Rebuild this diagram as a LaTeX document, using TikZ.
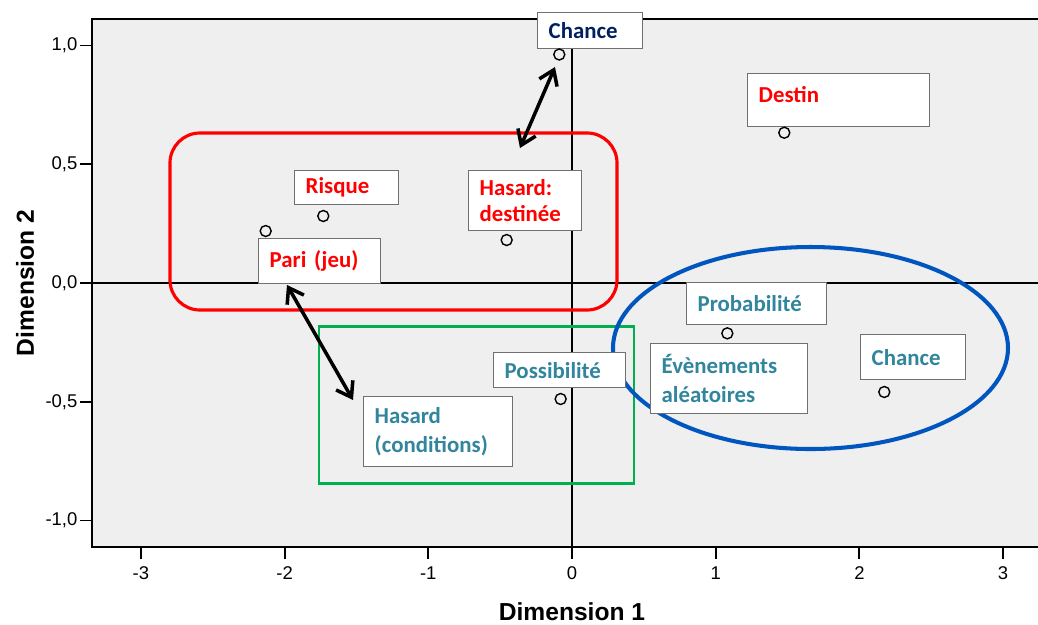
\documentclass[tikz,border=0pt]{standalone}
\usepackage{fontspec}
\setmainfont{Liberation Sans}
\newfontfamily\calib{Carlito}
\usetikzlibrary{arrows.meta}

\definecolor{plotgray}{HTML}{EFEFEF}
\definecolor{boxgray}{HTML}{707070}
\definecolor{chancenavy}{HTML}{002060}
\definecolor{tealtxt}{HTML}{31859C}
\definecolor{grpgreen}{HTML}{00B050}
\definecolor{grpblue}{HTML}{0055BF}

\begin{document}
\begin{tikzpicture}[x=2.874cm,y=4.75cm,
  lbl/.style={draw=boxgray,line width=0.8pt,fill=white,anchor=north west,
    inner xsep=0.22cm,inner ysep=0pt,align=left,
    font=\calib\bfseries\fontsize{13}{16.5}\selectfont},
  pt/.style={circle,draw,line width=0.8pt,minimum size=0.22cm,inner sep=0pt},
  dbl/.style={{Straight Barb[length=8pt,width=11pt]}-{Straight Barb[length=8pt,width=11pt]},line width=2pt},
  ticklbl/.style={font=\fontsize{10.5}{12}\selectfont,inner sep=1pt}]

\useasboundingbox (-3.9805,1.1916) rectangle (3.2429,-1.4358);

% plot area and axes
\fill[plotgray] (-3.340,1.1116) rectangle (3.2429,-1.1116);
\draw[line width=1.1pt] (-3.340,0) -- (3.2429,0);
\draw[line width=1.1pt] (0,1.1116) -- (0,-1.1116);
\draw[line width=1.1pt] (3.2429,1.1116) -- (-3.340,1.1116) -- (-3.340,-1.1116) -- (3.2429,-1.1116);

\foreach \y/\t in {1/{1,0},0.5/{0,5},0/{0,0},-0.5/{-0,5},-1/{-1,0}}
  \draw[line width=1.1pt] (-3.340,\y) -- (-3.4235,\y) node[ticklbl,anchor=east] {\t};
\foreach \x in {-3,...,3}{
  \draw[line width=1.1pt] (\x,-1.1116) -- (\x,-1.1621);
  \node[ticklbl] at (\x,-1.2232) {\x};
}

\node[font=\bfseries\fontsize{14}{16}\selectfont] (xtitle) at (0,-1.384) {Dimension 1};
\node[font=\bfseries\fontsize{14}{16}\selectfont,rotate=90] (ytitle) at (-3.8066,0) {Dimension 2};

% groups
\draw[red,line width=1.8pt,rounded corners=0.6cm] (-2.7975,0.6316) rectangle (0.3132,-0.1137);
\draw[grpgreen,line width=1.7pt] (-1.7606,-0.1811) rectangle (0.4315,-0.8421);
\draw[grpblue,line width=2.3pt] (1.6597,-0.2737) ellipse [x radius=3.95cm,y radius=2.02cm];

% labels
\node[lbl,text width=1.66cm,minimum height=0.72cm,text=chancenavy] (lChanceT) at (-0.2436,1.1411) {Chance};
\node[lbl,text width=3.20cm,minimum height=1.06cm,text=red,text depth=0.22cm] (lDestin) at (1.2178,0.8842) {Destin};
\node[lbl,text width=1.64cm,minimum height=0.68cm,text=red] (lRisque) at (-1.9346,0.4758) {Risque};
\node[lbl,text width=2.00cm,minimum height=0.90cm,text=red] (lPari) at (-2.1851,0.1895) {Pari (jeu)};
\node[lbl,text width=1.82cm,minimum height=1.20cm,text=red,
  font=\calib\bfseries\fontsize{13}{14.7}\selectfont] (lHasardD) at (-0.7237,0.4758) {Hasard:\\destinée};
\node[lbl,text width=2.20cm,minimum height=0.70cm,text=tealtxt] (lPossib) at (-0.5498,-0.2905) {Possibilité};
\node[lbl,text width=2.54cm,minimum height=1.40cm,text=tealtxt,
  font=\calib\bfseries\fontsize{13}{17}\selectfont] (lHasardC) at (-1.4544,-0.4758) {Hasard\\(conditions)};
\node[lbl,text width=2.36cm,minimum height=0.84cm,text=tealtxt] (lProba) at (0.7933,0.0042) {Probabilité};
\node[lbl,text width=2.70cm,minimum height=1.40cm,text=tealtxt] (lEvts) at (0.5428,-0.2526) {Évènements\\aléatoires};
\node[lbl,text width=1.66cm,minimum height=0.90cm,text=tealtxt] (lChanceR) at (2.0042,-0.2147) {Chance};

% points
\coordinate (ChanceT) at (-0.0884,0.9621);
\coordinate (Destin) at (1.4774,0.6328);
\coordinate (Risque) at (-1.7307,0.2821);
\coordinate (Pari) at (-2.1315,0.2189);
\coordinate (HasardD) at (-0.4545,0.1810);
\coordinate (Possib) at (-0.0789,-0.4884);
\coordinate (Proba) at (1.0809,-0.2119);
\coordinate (ChanceR) at (2.1733,-0.4589);

\foreach \point in {ChanceT,Destin,Risque,Pari,HasardD,Possib,Proba,ChanceR}
  \node[pt] at (\point) {};

% links
\coordinate (a1) at (-0.1183,0.9095);
\coordinate (a2) at (-0.3619,0.5684);
\coordinate (a3) at (-1.9833,-0.0084);
\coordinate (a4) at (-1.5240,-0.4926);
\draw[dbl] (a1) -- (a2);
\draw[dbl] (a3) -- (a4);
\end{tikzpicture}
\end{document}
